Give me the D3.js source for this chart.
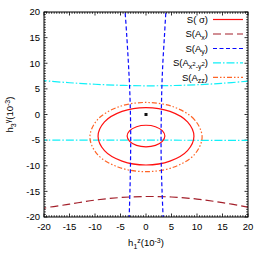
<!DOCTYPE html>
<html><head><meta charset="utf-8">
<script src="https://cdn.jsdelivr.net/npm/d3@7"></script>
<style>body{margin:0;background:#fff}svg{display:block}text{font-family:"Liberation Sans",Arial,Helvetica,sans-serif;fill:#000}</style>
</head><body><div id="chart"></div>
<script>
const xTicks = [-20,-15,-10,-5,0,5,10,15,20];
const yTicks = [-20,-15,-10,-5,0,5,10,15,20];
const seriesNames = ["S(σ)","S(Ax)","S(Ay)","S(Ax2-y2)","S(Azz)"];
// S(sigma) contours (closed)
const sigmaOuter = [[9.4,-4.25],[8.14,-1.45],[4.7,0.6],[0,1.35],[-4.7,0.6],[-8.14,-1.45],[-9.4,-4.25],[-8.14,-7.05],[-4.7,-9.1],[0,-9.85],[4.7,-9.1],[8.14,-7.05]];
const sigmaInner = [[3.7,-4.2],[3.2,-3.15],[1.85,-2.38],[0,-2.1],[-1.85,-2.38],[-3.2,-3.15],[-3.7,-4.2],[-3.2,-5.25],[-1.85,-6.02],[0,-6.3],[1.85,-6.02],[3.2,-5.25]];
// S(Azz) contour (closed)
const azzLoop = [[11,-4.4],[9.53,-1.03],[5.5,1.45],[0,2.35],[-5.5,1.45],[-9.53,-1.03],[-11,-4.4],[-9.53,-7.78],[-5.5,-10.25],[0,-11.15],[5.5,-10.25],[9.53,-7.78]];
// S(Ax)
const axCurve = [[-21,-18.7],[-20,-18.3],[-15,-17.5],[-10,-16.7],[-5,-16.2],[0,-16.0],[5,-16.1],[10,-16.5],[15,-17.2],[20,-18.1],[21,-18.4]];
// S(Ay) two branches
const ayLeft = [[-4.2,21],[-4.1,20],[-3.75,15],[-3.45,10],[-3.2,5],[-3.05,0],[-3.0,-5],[-3.05,-10],[-3.15,-15],[-3.3,-20],[-3.33,-21]];
const ayRight = [[4.0,21],[3.9,20],[3.6,15],[3.3,10],[3.1,5],[3.0,0],[2.95,-5],[3.0,-10],[3.15,-15],[3.35,-20],[3.38,-21]];
// S(Ax2-y2) two branches
const ax2Upper = [[-21,6.7],[-20,6.6],[-15,6.2],[-10,5.9],[-5,5.7],[0,5.6],[5,5.65],[10,5.8],[15,6.1],[20,6.5],[21,6.6]];
const ax2Lower = [[-21,-4.98],[-20,-4.98],[-10,-5.0],[0,-5.0],[10,-5.03],[20,-5.06],[21,-5.06]];
// reference point
const refPoint = [[0,0]];

const W=267,H=260;
const x = d3.scaleLinear().domain([-20,20]).range([44,248]);
const y = d3.scaleLinear().domain([-20,20]).range([217,12]);
const svg = d3.select("#chart").append("svg").attr("width",W).attr("height",H);

svg.append("defs").append("clipPath").attr("id","clip").append("rect")
  .attr("x",x(-20)).attr("y",y(20)).attr("width",x(20)-x(-20)).attr("height",y(-20)-y(20));

// ticks
const minor = d3.range(-20,20.01,0.5).filter(v=>Math.abs(v%5)>1e-6);
const tg = svg.append("g").attr("stroke","#000").attr("stroke-width",0.8);
function tick(v,len,axis){
  if(axis==="x"){
    tg.append("line").attr("x1",x(v)).attr("x2",x(v)).attr("y1",y(-20)).attr("y2",y(-20)-len);
    tg.append("line").attr("x1",x(v)).attr("x2",x(v)).attr("y1",y(20)).attr("y2",y(20)+len);
  } else {
    tg.append("line").attr("y1",y(v)).attr("y2",y(v)).attr("x1",x(-20)).attr("x2",x(-20)+len);
    tg.append("line").attr("y1",y(v)).attr("y2",y(v)).attr("x1",x(20)).attr("x2",x(20)-len);
  }
}
minor.forEach(v=>{tick(v,1.8,"x");tick(v,1.8,"y");});
xTicks.forEach(v=>tick(v,3.5,"x"));
yTicks.forEach(v=>tick(v,3.5,"y"));

svg.append("g").selectAll("text").data(xTicks).join("text")
  .attr("x",d=>x(d)).attr("y",229.5).attr("text-anchor","middle").attr("font-size","9.5px").text(d=>d);
svg.append("g").selectAll("text").data(yTicks).join("text")
  .attr("x",40).attr("y",d=>y(d)+3.3).attr("text-anchor","end").attr("font-size","9.5px").text(d=>d);

// curves
const plot = svg.append("g").attr("clip-path","url(#clip)");
const lineOpen = d3.line().x(d=>x(d[0])).y(d=>y(d[1])).curve(d3.curveCatmullRom);
const lineClosed = d3.line().x(d=>x(d[0])).y(d=>y(d[1])).curve(d3.curveCatmullRomClosed);
const styles = {
  sigma:{c:"#ff1010",d:null},
  ax:{c:"#a31f2a",d:"8,4"},
  ay:{c:"#0a0aff",d:"4,2.5"},
  ax2:{c:"#10f0f8",d:"8,2,1.5,2"},
  azz:{c:"#ff6426",d:"5,2,1.5,2,1.5,2"}
};
function draw(data,gen,s){
  plot.append("path").attr("d",gen(data)).attr("fill","none").attr("stroke",s.c)
    .attr("stroke-width",1.2).attr("stroke-dasharray",s.d);
}
draw(ax2Upper,lineOpen,styles.ax2);
draw(ax2Lower,lineOpen,styles.ax2);
draw(azzLoop,lineClosed,styles.azz);
draw(sigmaOuter,lineClosed,styles.sigma);
draw(sigmaInner,lineClosed,styles.sigma);
draw(axCurve,lineOpen,styles.ax);
draw(ayLeft,lineOpen,styles.ay);
draw(ayRight,lineOpen,styles.ay);
plot.selectAll("rect.pt").data(refPoint).join("rect").attr("class","pt")
  .attr("x",d=>x(d[0])-1.5).attr("y",d=>y(d[1])-1.5).attr("width",3).attr("height",3).attr("fill","#111");

// frame
svg.append("rect").attr("x",x(-20)).attr("y",y(20)).attr("width",x(20)-x(-20)).attr("height",y(-20)-y(20))
  .attr("fill","none").attr("stroke","#000").attr("stroke-width",1);

// legend
const legY = [19.5,34,48.5,62.8,77.3];
const legKeys = ["sigma","ax","ay","ax2","azz"];
const lg = svg.append("g");
legKeys.forEach((k,i)=>{
  lg.append("line").attr("x1",213).attr("x2",243).attr("y1",legY[i]).attr("y2",legY[i])
    .attr("stroke",styles[k].c).attr("stroke-width",1.2).attr("stroke-dasharray",styles[k].d);
});
function legText(i){ return lg.append("text").attr("x",208).attr("y",legY[i]+3.3).attr("text-anchor","end").attr("font-size","9.5px"); }
let t;
t = legText(0); t.text("S(\u00a0σ)");
t = legText(1); t.append("tspan").text("S(A"); t.append("tspan").attr("dy",2.5).attr("font-size","7px").text("x"); t.append("tspan").attr("dy",-2.5).text(")");
t = legText(2); t.append("tspan").text("S(A"); t.append("tspan").attr("dy",2.5).attr("font-size","7px").text("y"); t.append("tspan").attr("dy",-2.5).text(")");
t = legText(3); t.append("tspan").text("S(A");
t.append("tspan").attr("dy",2.5).attr("font-size","7px").text("x");
t.append("tspan").attr("dy",-3).attr("font-size","6px").text("2");
t.append("tspan").attr("dy",3).attr("font-size","7px").text("-y");
t.append("tspan").attr("dy",-3).attr("font-size","6px").text("2");
t.append("tspan").attr("dy",0.5).text(")");
t = legText(4); t.append("tspan").text("S(A"); t.append("tspan").attr("dy",2.5).attr("font-size","7px").text("zz"); t.append("tspan").attr("dy",-2.5).text(")");

// axis titles
const xl = svg.append("text").attr("x",146).attr("y",246).attr("text-anchor","middle").attr("font-size","9.5px");
xl.append("tspan").text("h");
xl.append("tspan").attr("dy",2.5).attr("font-size","7px").text("1");
xl.append("tspan").attr("dy",-5.5).attr("font-size","7px").text("z");
xl.append("tspan").attr("dy",3).text("(10");
xl.append("tspan").attr("dy",-3.5).attr("font-size","7px").text("-3");
xl.append("tspan").attr("dy",3.5).text(")");

const yl = svg.append("text").attr("transform","translate(13,114.5) rotate(-90)").attr("text-anchor","middle").attr("font-size","9.5px");
yl.append("tspan").text("h");
yl.append("tspan").attr("dy",2.5).attr("font-size","7px").text("3");
yl.append("tspan").attr("dy",-5.5).attr("font-size","7px").text("γ");
yl.append("tspan").attr("dy",3).text("(10");
yl.append("tspan").attr("dy",-3.5).attr("font-size","7px").text("-3");
yl.append("tspan").attr("dy",3.5).text(")");
</script></body></html>
